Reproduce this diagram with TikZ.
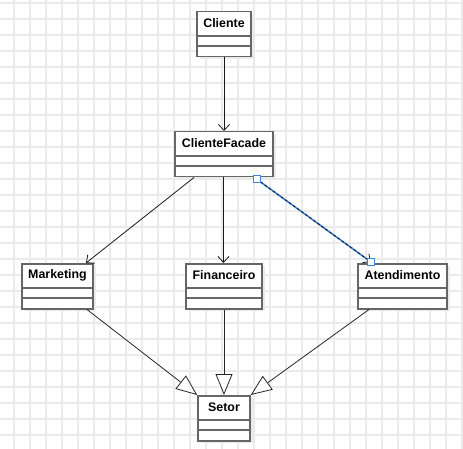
\documentclass[tikz,border=0pt]{standalone}
\usepackage{fontspec}
\setmainfont{Liberation Sans}
\usetikzlibrary{arrows.meta}
\definecolor{gridc}{HTML}{EBEBEB}
\definecolor{boxc}{HTML}{666666}
\definecolor{selc}{HTML}{3D86E0}
\tikzset{
  classbox/.style={draw=boxc, line width=1.5pt, fill=white, inner sep=0pt, minimum height=45pt},
  shadowbox/.style={fill=black!8, draw=none},
  title/.style={font=\bfseries\fontsize{12.4pt}{14pt}\selectfont, inner sep=0pt, text=black},
  sep/.style={draw=boxc, line width=1.5pt},
  assoc/.style={draw=black!90, line width=0.8pt, -{Straight Barb[length=6pt,width=11pt,line width=0.8pt]}},
  inherit/.style={draw=black!85, line width=0.8pt, -{Triangle[open,length=21pt,width=17pt,fill=white,line width=0.8pt]}},
  handle/.style={draw=selc, fill=white, line width=0.8pt, minimum size=7pt, inner sep=0pt}
}
\newcommand\umlcls[5]{% name, cx, top, width, text
  \fill[shadowbox] (#2-#4/2+3,#3+3) rectangle (#2+#4/2+3,#3+48);
  \node[classbox, minimum width=#4pt, anchor=north] (#1) at (#2,#3) {};
  \node[title] (#1-t) at (#2,#3+12.5) {#5};
  \draw[sep] ([yshift=-25pt]#1.north west) -- ([yshift=-25pt]#1.north east);
  \draw[sep] ([yshift=-35pt]#1.north west) -- ([yshift=-35pt]#1.north east);
}
\begin{document}
\begin{tikzpicture}[x=1pt,y=-1pt]
\useasboundingbox (0,0) rectangle (463,449);
\fill[white] (0,0) rectangle (463,449);
\foreach \gx in {14,30,...,462} \draw[gridc, line width=1.1pt] (\gx,0) -- (\gx,449);
\foreach \gy in {3,19,...,449} \draw[gridc, line width=1.1pt] (0,\gy) -- (463,\gy);

\umlcls{cliente}{224}{11}{54}{Cliente}
\umlcls{facade}{224}{131}{98}{ClienteFacade}
\umlcls{mkt}{57.5}{263}{71}{Marketing}
\umlcls{fin}{224}{263}{76}{Financeiro}
\umlcls{atd}{402.5}{263}{89}{Atendimento}
\umlcls{setor}{224}{395}{52}{Setor}

\draw[assoc] (cliente.south) -- (facade.north);
\draw[assoc] ([xshift=-30pt]facade.south) -- ([xshift=28.5pt]mkt.north);
\draw[assoc] ([xshift=-0.5pt]facade.south) -- ([xshift=-0.5pt]fin.north);
\coordinate (selA) at ([xshift=32.5pt,yshift=-1.5pt]facade.south);
\coordinate (selB) at ([xshift=-31.5pt,yshift=1pt]atd.north);
\draw[selc, line width=1.6pt] (selA) -- (selB);
\draw[assoc, dashed, dash pattern=on 3pt off 2pt] (selA) -- (selB);
\node[handle] (hA) at (selA) {};
\node[handle] (hB) at (selB) {};

\draw[inherit] ([xshift=29.5pt]mkt.south) -- (setor.north west);
\draw[inherit] (fin.south) -- (setor.north);
\draw[inherit] ([xshift=-33.5pt]atd.south) -- (setor.north east);
\end{tikzpicture}
\end{document}
